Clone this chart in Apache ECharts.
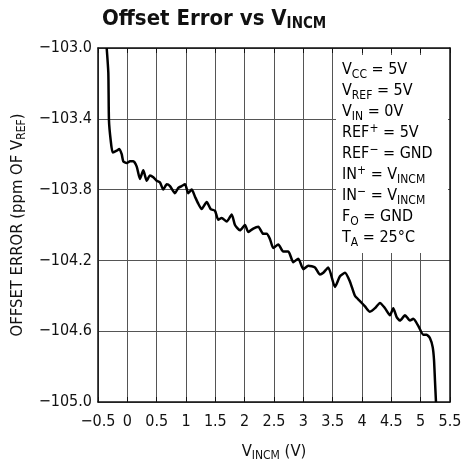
<!DOCTYPE html>
<html>
<head>
<meta charset="utf-8">
<script src="https://cdn.jsdelivr.net/npm/echarts@6/dist/echarts.min.js"></script>
<style>
  html, body { margin: 0; padding: 0; background: #fff; }
  #chart { width: 462px; height: 462px; }
</style>
</head>
<body>
<div id="chart"></div>
<script>
// V_INCM (V) values
const vIncm = [
  -0.352, -0.324, -0.313, -0.284, -0.249, -0.181, -0.137, -0.096, -0.069, -0.011,
  0.045, 0.102, 0.160, 0.216, 0.272, 0.330, 0.386, 0.443, 0.500, 0.557,
  0.613, 0.671, 0.727, 0.812, 0.869, 0.927, 0.983, 1.039, 1.097, 1.153,
  1.210, 1.267, 1.353, 1.421, 1.494, 1.550, 1.608, 1.694, 1.779, 1.835,
  1.920, 2.005, 2.062, 2.147, 2.232, 2.317, 2.375, 2.432, 2.488, 2.573,
  2.658, 2.744, 2.829, 2.914, 3.000, 3.085, 3.199, 3.284, 3.340, 3.425,
  3.540, 3.625, 3.710, 3.795, 3.880, 3.966, 4.051, 4.136, 4.221, 4.306,
  4.392, 4.477, 4.533, 4.591, 4.647, 4.733, 4.818, 4.874, 4.959, 5.045,
  5.102, 5.159, 5.205, 5.227, 5.244, 5.261
]
// offset error (ppm of V_REF)
const offsetErr = [
  -103.00, -103.14, -103.41, -103.52, -103.59, -103.58, -103.57, -103.60, -103.64, -103.65,
  -103.64, -103.64, -103.67, -103.74, -103.69, -103.75, -103.72, -103.73, -103.75, -103.76,
  -103.80, -103.77, -103.78, -103.82, -103.79, -103.78, -103.77, -103.82, -103.80, -103.84,
  -103.88, -103.91, -103.87, -103.91, -103.92, -103.97, -103.96, -103.98, -103.94, -104.00,
  -104.03, -104.00, -104.04, -104.02, -104.01, -104.05, -104.05, -104.08, -104.13, -104.11,
  -104.15, -104.15, -104.21, -104.19, -104.25, -104.23, -104.24, -104.28, -104.27, -104.24,
  -104.35, -104.29, -104.27, -104.32, -104.40, -104.43, -104.46, -104.49, -104.47, -104.44,
  -104.47, -104.51, -104.47, -104.52, -104.54, -104.51, -104.54, -104.53, -104.57, -104.62,
  -104.62, -104.64, -104.69, -104.76, -104.88, -105.00
]
const xRange = [-0.5, 5.5, 0.5]
const yRange = [-105, -103, 0.4]
// conditions box, each line as [main, small, rest, kind]
const notes = [
  ['V', 'CC', ' = 5V', 'sub'],
  ['V', 'REF', ' = 5V', 'sub'],
  ['V', 'IN', ' = 0V', 'sub'],
  ['REF', '+', ' = 5V', 'sup'],
  ['REF', '\u2212', ' = GND', 'sup'],
  ['IN', '+', ' = V', 'sup', 'INCM'],
  ['IN', '\u2212', ' = V', 'sup', 'INCM'],
  ['F', 'O', ' = GND', 'sub'],
  ['T', 'A', ' = 25°C', 'sub']
]

const FONT = '"Liberation Sans Narrow", "DejaVu Sans Condensed", sans-serif'
const minus = (s) => String(s).replace('-', '\u2212')

const chart = echarts.init(document.getElementById('chart'))
const data = vIncm.map((x, i) => [x, offsetErr[i]])

const noteText = notes.map((n) => {
  let s = '{m|' + n[0] + '}{' + n[3] + '|' + n[1] + '}{m|' + n[2] + '}'
  if (n[4]) s += '{sub|' + n[4] + '}'
  return s
}).join('\n')

const axisLbl = { fontFamily: FONT, fontSize: 16, color: '#111' }
const subRich = {
  m: { fontFamily: FONT, fontSize: 16.5, color: '#111', lineHeight: 20 },
  sub: { fontFamily: FONT, fontSize: 12, color: '#111', verticalAlign: 'bottom', lineHeight: 10 }
}
const option = {
  animation: false,
  backgroundColor: '#fff',
  title: {
    text: '{m|Offset Error vs V}{s|INCM}',
    left: 97,
    top: 1,
    textStyle: {
      rich: {
        m: { fontFamily: FONT, fontSize: 22, fontWeight: 'bold', color: '#111', lineHeight: 26 },
        s: { fontFamily: FONT, fontSize: 15, fontWeight: 'bold', color: '#111', verticalAlign: 'bottom', lineHeight: 12 }
      }
    }
  },
  grid: { left: 98, top: 48, right: 12, bottom: 60, containLabel: false, outerBoundsMode: 'none' },
  xAxis: [
    {
      type: 'value',
      min: xRange[0], max: xRange[1], interval: xRange[2],
      position: 'bottom',
      axisLine: { onZero: false, lineStyle: { color: '#111', width: 1.5 } },
      axisTick: { inside: true, length: 5, lineStyle: { color: '#111' } },
      axisLabel: { ...axisLbl, margin: 12, formatter: (v) => minus(v) },
      splitLine: { lineStyle: { color: '#555', width: 1 } },
      name: '{m|V}{sub|INCM}{m| (V)}',
      nameLocation: 'middle',
      nameGap: 40,
      nameTextStyle: { rich: subRich }
    },
    {
      type: 'value',
      min: xRange[0], max: xRange[1], interval: xRange[2],
      position: 'top',
      axisLine: { onZero: false, lineStyle: { color: '#111', width: 1.5 } },
      axisTick: { inside: true, length: 5, lineStyle: { color: '#111' } },
      axisLabel: { show: false },
      splitLine: { show: false }
    }
  ],
  yAxis: [
    {
      type: 'value',
      min: yRange[0], max: yRange[1], interval: yRange[2],
      axisLine: { show: true, onZero: false, lineStyle: { color: '#111', width: 1.5 } },
      axisTick: { show: false },
      axisLabel: { ...axisLbl, margin: 6, formatter: (v) => minus(v.toFixed(1)) },
      splitLine: { lineStyle: { color: '#555', width: 1 } },
      name: '{m|OFFSET ERROR (ppm OF V}{sub|REF}{m|)}',
      nameLocation: 'middle',
      nameGap: 69,
      nameTextStyle: { rich: subRich }
    },
    {
      type: 'value',
      position: 'right',
      min: yRange[0], max: yRange[1], interval: yRange[2],
      axisLine: { show: true, onZero: false, lineStyle: { color: '#111', width: 1.5 } },
      axisTick: { show: false },
      axisLabel: { show: false },
      splitLine: { show: false }
    }
  ],
  graphic: [
    {
      type: 'rect',
      z: 5,
      shape: { x: 336, y: 55, width: 112, height: 198 },
      style: { fill: '#fff' }
    },
    {
      type: 'text',
      z: 6,
      left: 342,
      top: 62,
      style: {
        text: noteText,
        rich: {
          m: { fontFamily: FONT, fontSize: 16, color: '#111', lineHeight: 21 },
          sub: { fontFamily: FONT, fontSize: 12, color: '#111', verticalAlign: 'bottom', lineHeight: 10 },
          sup: { fontFamily: FONT, fontSize: 12, color: '#111', verticalAlign: 'top', lineHeight: 12 }
        }
      }
    }
  ],
  series: [
    {
      type: 'line',
      data: data,
      showSymbol: false,
      smooth: 0.2,
      lineStyle: { color: '#000', width: 2.5 },
      clip: true
    }
  ]
}
chart.setOption(option)
</script>
</body>
</html>
